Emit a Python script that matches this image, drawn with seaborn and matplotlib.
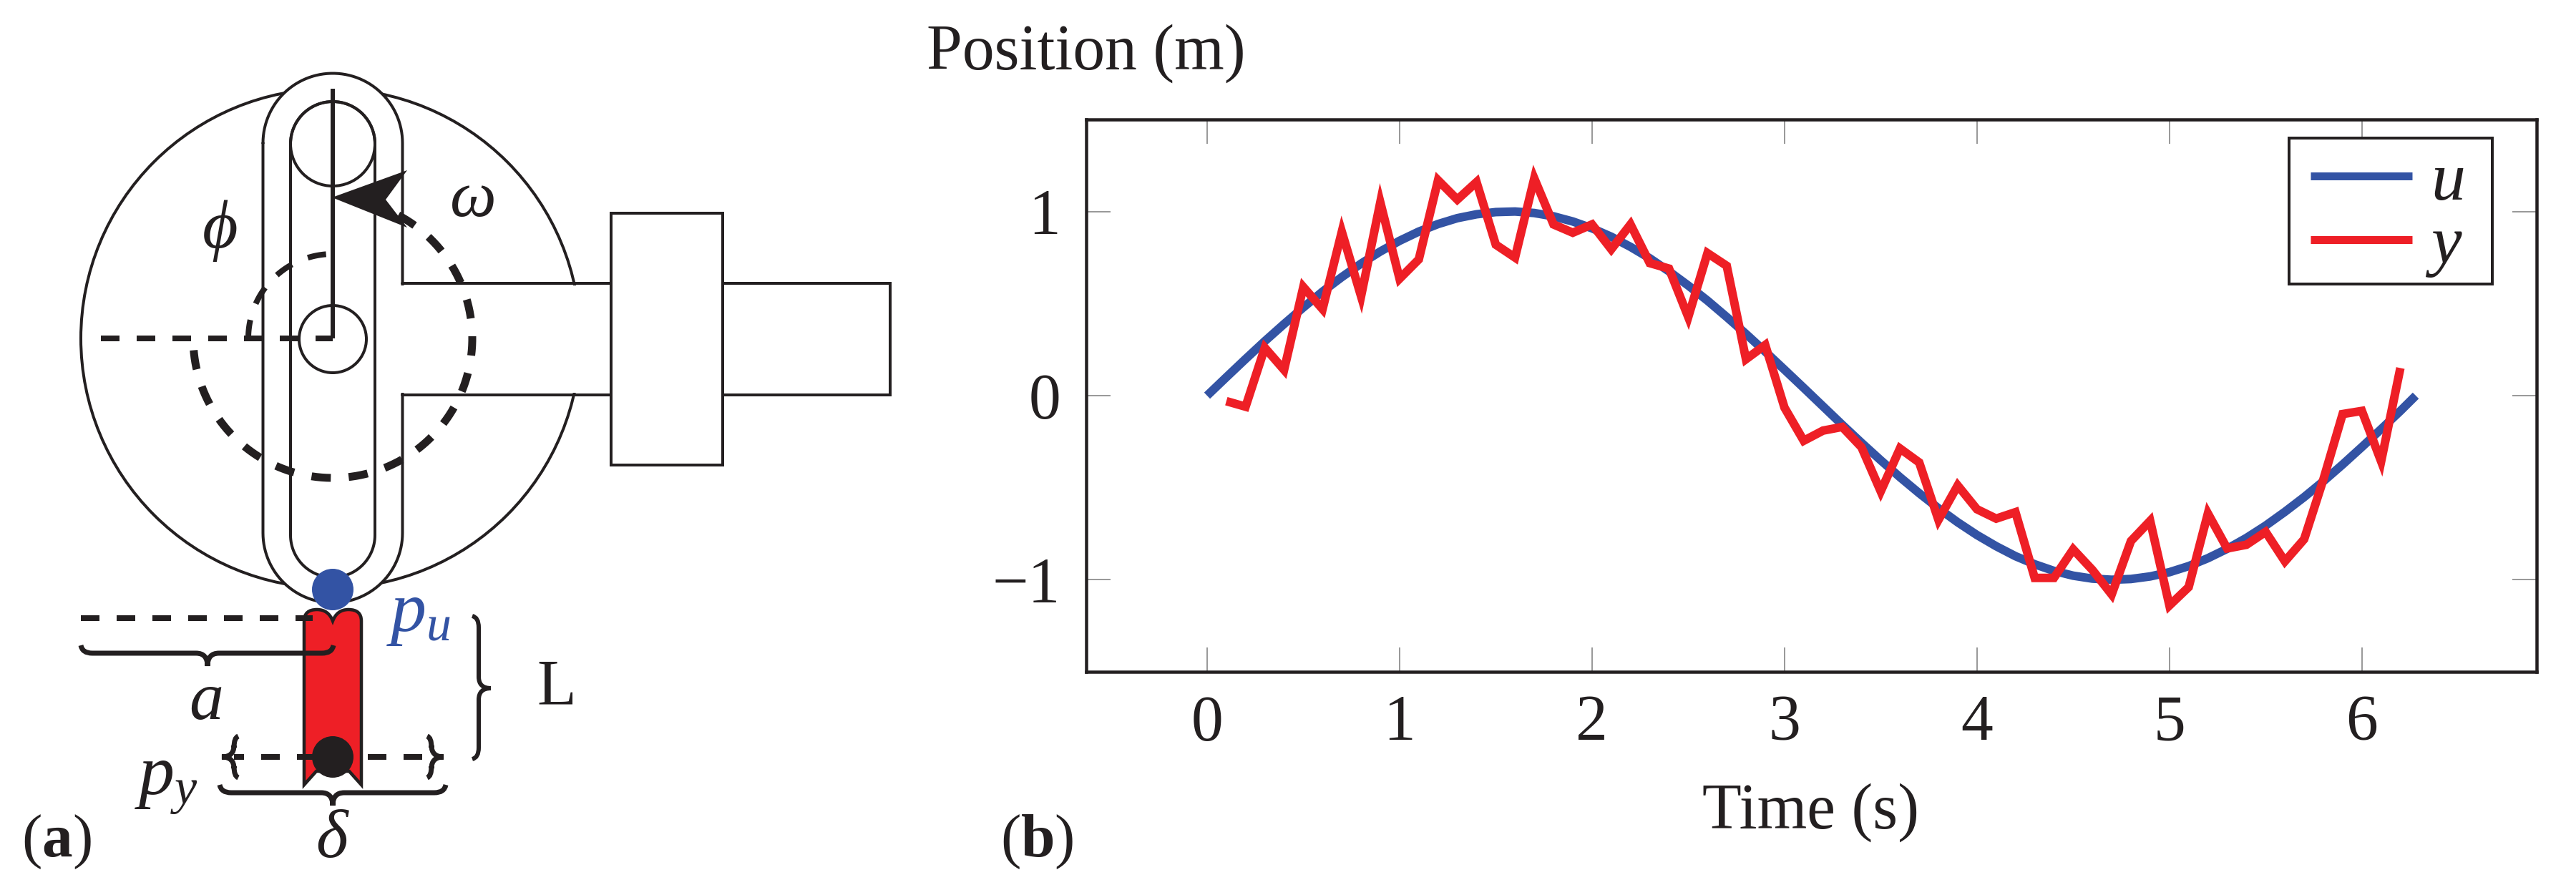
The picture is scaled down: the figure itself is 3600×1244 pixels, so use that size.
import numpy as np
import pandas as pd
import matplotlib
matplotlib.use('Agg')
import matplotlib.pyplot as plt
import seaborn as sns
from matplotlib.patches import Circle, PathPatch, Polygon, Rectangle
from matplotlib.path import Path

W, H = 3600, 1244
BLUE = '#3353a4'
RED = '#ee1f26'
INK = '#231f20'
TICK = '#9a9a9a'
SERIF = 'Liberation Serif'

# panel (b) data
u_time = [0, 0.1, 0.2, 0.3, 0.4, 0.5, 0.6, 0.7, 0.8, 0.9, 1.0, 1.1, 1.2, 1.3, 1.4,
          1.5, 1.6, 1.7, 1.8, 1.9, 2.0, 2.1, 2.2, 2.3, 2.4, 2.5, 2.6, 2.7, 2.8,
          2.9, 3.0, 3.1, 3.2, 3.3, 3.4, 3.5, 3.6, 3.7, 3.8, 3.9, 4.0, 4.1, 4.2,
          4.3, 4.4, 4.5, 4.6, 4.7, 4.8, 4.9, 5.0, 5.1, 5.2, 5.3, 5.4, 5.5, 5.6,
          5.7, 5.8, 5.9, 6.0, 6.1, 6.2, 6.28]
u_values = [0, 0.1, 0.199, 0.296, 0.389, 0.479, 0.565, 0.644, 0.717, 0.783, 0.841,
            0.891, 0.932, 0.964, 0.985, 0.997, 1.0, 0.992, 0.974, 0.946, 0.909,
            0.863, 0.808, 0.746, 0.675, 0.598, 0.516, 0.427, 0.335, 0.239, 0.141,
            0.042, -0.058, -0.158, -0.256, -0.351, -0.443, -0.53, -0.612, -0.688,
            -0.757, -0.818, -0.872, -0.916, -0.952, -0.978, -0.994, -1.0, -0.996,
            -0.982, -0.959, -0.926, -0.883, -0.832, -0.773, -0.706, -0.631, -0.551,
            -0.465, -0.374, -0.279, -0.182, -0.083, 0]
y_time = [0.1, 0.2, 0.3, 0.4, 0.5, 0.6, 0.7, 0.8, 0.9, 1.0, 1.1, 1.2, 1.3, 1.4,
          1.5, 1.6, 1.7, 1.8, 1.9, 2.0, 2.1, 2.2, 2.3, 2.4, 2.5, 2.6, 2.7, 2.8,
          2.9, 3.0, 3.1, 3.2, 3.3, 3.4, 3.5, 3.6, 3.7, 3.8, 3.9, 4.0, 4.1, 4.2,
          4.3, 4.4, 4.5, 4.6, 4.7, 4.8, 4.9, 5.0, 5.1, 5.2, 5.3, 5.4, 5.5, 5.6,
          5.7, 5.8, 5.9, 6.0, 6.1, 6.2]
y_values = [-0.03, -0.06, 0.26, 0.14, 0.59, 0.47, 0.89, 0.54, 1.05, 0.635, 0.74,
            1.17, 1.065, 1.16, 0.82, 0.75, 1.18, 0.93, 0.885, 0.93, 0.795, 0.93,
            0.72, 0.69, 0.427, 0.774, 0.705, 0.198, 0.275, -0.065, -0.245, -0.19,
            -0.17, -0.28, -0.52, -0.287, -0.363, -0.675, -0.488, -0.617, -0.668,
            -0.633, -0.99, -0.99, -0.835, -0.947, -1.08, -0.79, -0.68, -1.14,
            -1.04, -0.64, -0.83, -0.81, -0.74, -0.90, -0.78, -0.455, -0.10,
            -0.083, -0.357, 0.15]
x_ticks = [0, 1, 2, 3, 4, 5, 6]
y_ticks = [-1, 0, 1]

sns.set_theme(style='white')
plt.rcParams['font.family'] = [SERIF, 'DejaVu Serif']
plt.rcParams['mathtext.fontset'] = 'custom'
plt.rcParams['mathtext.rm'] = SERIF
plt.rcParams['mathtext.it'] = SERIF + ':italic'
plt.rcParams['mathtext.bf'] = SERIF + ':bold'
plt.rcParams['text.color'] = INK


def pt(px):
    return px * 72 / 300


fig = plt.figure(figsize=(W / 300, H / 300), dpi=300)
fig.patch.set_facecolor('white')

# ---- panel (b)
AX_L, AX_R, AX_T, AX_B = 1518, 3545, 167, 939
ax = fig.add_axes([AX_L / W, (H - AX_B) / H, (AX_R - AX_L) / W, (AX_B - AX_T) / H])
df = pd.concat([
    pd.DataFrame({'t': u_time, 'v': u_values, 's': 'u'}),
    pd.DataFrame({'t': y_time, 'v': y_values, 's': 'y'}),
])
sns.lineplot(data=df, x='t', y='v', hue='s', palette={'u': BLUE, 'y': RED},
             estimator=None, sort=False, linewidth=pt(12), ax=ax,
             solid_joinstyle='miter', solid_capstyle='butt')
ax.set_xlim(-0.628, 6.908)
ax.set_ylim(-1.5, 1.5)
ax.set_xticks(x_ticks)
ax.set_yticks(y_ticks)
ax.set_xlabel('')
ax.set_ylabel('')
ax.tick_params(axis='both', which='major', direction='in', length=pt(34), width=pt(2),
               color=TICK, labelsize=21.5, labelcolor=INK, top=True, right=True, bottom=True, left=True)
ax.tick_params(axis='x', pad=pt(32))
ax.tick_params(axis='y', pad=pt(36))
for s in ax.spines.values():
    s.set_linewidth(pt(4.5))
    s.set_color(INK)

# legend box is drawn apart so its size can follow the picture
box_w = AX_R - AX_L
box_h = AX_B - AX_T
ax.add_patch(Rectangle(((3199 - AX_L) / box_w, (AX_B - 397) / box_h), 284 / box_w, 204 / box_h,
                       transform=ax.transAxes, fc='white', ec=INK, lw=pt(4), zorder=4))
handles, labels = ax.get_legend_handles_labels()
leg = ax.legend(handles, labels, loc='upper left', borderaxespad=0, borderpad=0,
                bbox_to_anchor=((3229 - AX_L) / box_w, (AX_B - 212) / box_h),
                frameon=False, prop={'family': SERIF, 'style': 'italic', 'size': 23},
                handlelength=1.48, handletextpad=0.28, labelspacing=0.02)
leg.set_zorder(5)
for line in leg.get_lines():
    line.set_linewidth(pt(11))

# ---- overlay in image pixels, holds panel (a) and the loose labels
ov = fig.add_axes([0, 0, 1, 1], zorder=5)
ov.set_xlim(0, W)
ov.set_ylim(H, 0)
ov.axis('off')
ov.patch.set_alpha(0)

THIN = pt(4)


def stadium(cx, top, bottom, r, fill=None, z=2):
    a = np.linspace(np.pi, 0, 60)
    xs = np.r_[cx + r * np.cos(a), cx - r * np.cos(a)]
    ys = np.r_[top - r * np.sin(a), bottom + r * np.sin(a)]
    if fill:
        ov.fill(xs, ys, color=fill, zorder=z, lw=0)
    ov.plot(np.r_[xs, xs[0]], np.r_[ys, ys[0]], color=INK, lw=THIN, zorder=z)


def dashed(xs, ys, on=26, off=24, width=8, offset=0, z=6):
    ov.plot(xs, ys, color=INK, lw=pt(width), zorder=z, solid_capstyle='butt',
            dash_capstyle='butt',
            linestyle=(offset / width, (on / width, off / width)))


def arc(cx, cy, r, a0, a1):
    a = np.radians(np.linspace(a0, a1, 120))
    return cx + r * np.cos(a), cy - r * np.sin(a)


def brace_h(x0, x1, y, tip, depth, end, width=7):
    # ends bend towards -end, tip points to +depth
    r = 16
    verts = [(x0, y - end), (x0 + 2, y), (x0 + r, y), (tip - r, y), (tip, y), (tip, y + depth),
             (tip, y), (tip + r, y), (x1 - r, y), (x1 - 2, y), (x1, y - end)]
    codes = [Path.MOVETO, Path.CURVE3, Path.CURVE3, Path.LINETO, Path.CURVE3, Path.CURVE3,
             Path.CURVE3, Path.CURVE3, Path.LINETO, Path.CURVE3, Path.CURVE3]
    ov.add_patch(PathPatch(Path(verts, codes), fill=False, ec=INK, lw=pt(width), zorder=7))


def brace_v(x, y0, y1, tip, depth, end, width=6):
    r = 16
    verts = [(x - end, y0), (x, y0 + 2), (x, y0 + r), (x, tip - r), (x, tip), (x + depth, tip),
             (x, tip), (x, tip + r), (x, y1 - r), (x, y1 - 2), (x - end, y1)]
    codes = [Path.MOVETO, Path.CURVE3, Path.CURVE3, Path.LINETO, Path.CURVE3, Path.CURVE3,
             Path.CURVE3, Path.CURVE3, Path.LINETO, Path.CURVE3, Path.CURVE3]
    ov.add_patch(PathPatch(Path(verts, codes), fill=False, ec=INK, lw=pt(width), zorder=7))


CX, CY = 465, 473

# wheel, slot, shaft
ov.add_patch(Circle((462, CY), 349, fc='white', ec=INK, lw=THIN, zorder=1))
stadium(CX, 200, 745, 97.5, fill='white', z=2)
ov.add_patch(Rectangle((556, 399), 298, 150, fc='white', ec='none', zorder=3))
ov.plot([562, 854], [396, 396], color=INK, lw=THIN, zorder=3)
ov.plot([562, 854], [552, 552], color=INK, lw=THIN, zorder=3)
ov.add_patch(Rectangle((1010, 396), 234, 156, fc='white', ec=INK, lw=THIN, zorder=3))
ov.add_patch(Rectangle((854, 298), 156, 352, fc='white', ec=INK, lw=THIN, zorder=4))
stadium(CX, 201, 748, 59, z=4)
ov.add_patch(Circle((CX, 201), 59, fill=False, ec=INK, lw=THIN, zorder=4))
ov.add_patch(Circle((CX, 474), 47, fill=False, ec=INK, lw=THIN, zorder=4))

# rod and arrow head
ov.plot([CX, CX], [124, CY], color=INK, lw=pt(6), zorder=5, solid_capstyle='butt')
ov.add_patch(Polygon([(464, 276), (569, 238), (539, 279), (569, 318)], fc=INK, ec='none', zorder=6))

# dashed guides
dashed([141, CX], [CY, CY], on=26, off=24)
xs, ys = arc(CX, CY, 195, 62, -180)
dashed(xs, ys, on=27, off=25, width=11)
xs, ys = arc(CX, CY, 118, 180, 93)
dashed(xs, ys, on=26, off=24, width=8)

# follower
bar = Path([(425, 1097), (425, 868), (425, 852), (443, 852), (459, 852), (465, 868),
            (471, 852), (487, 852), (505, 852), (505, 868), (505, 1097), (488, 1078),
            (442, 1078), (425, 1097)],
           [Path.MOVETO, Path.LINETO, Path.CURVE3, Path.CURVE3, Path.CURVE3, Path.CURVE3,
            Path.CURVE3, Path.CURVE3, Path.CURVE3, Path.CURVE3, Path.LINETO, Path.LINETO,
            Path.LINETO, Path.CLOSEPOLY])
ov.add_patch(PathPatch(bar, fc=RED, ec=INK, lw=pt(4.5), zorder=6, joinstyle='miter'))
ov.add_patch(Circle((465, 824), 29, fc=BLUE, ec='none', zorder=8))
ov.add_patch(Circle((465, 1058), 29, fc=INK, ec='none', zorder=8))
dashed([113, 437], [864, 864], z=7)
dashed([327, 437], [1058, 1058], offset=12, z=7)
dashed([514, 594], [1058, 1058], z=7)

# braces
brace_h(113, 466, 913, 290, 18, 11)
brace_h(307, 623, 1108, 465, 18, 11)
brace_v(669, 861, 1061, 962, 17, 9)
brace_v(327, 1029, 1087, 1058, -17, -6, width=7)
brace_v(603, 1029, 1087, 1058, 17, 6, width=7)


def label(x, y, s, size=21.5, color=INK, ha='center', va='center', **kw):
    ov.text(x, y, s, fontsize=size, color=color, ha=ha, va=va, family=SERIF, zorder=9, **kw)


label(307, 322, r'$\phi$', size=23)
label(659, 280, r'$\omega$', size=22)
label(585, 860, r'$p_u$', size=24, color=BLUE)
label(287, 982, r'$a$', size=23)
label(778, 962, 'L')
label(232, 1097, r'$p_y$', size=24)
label(465, 1175, r'$\delta$', size=23)
label(30, 1197, r'($\mathbf{a}$)', size=20.5, ha='left', va='baseline')
label(1398, 1197, r'($\mathbf{b}$)', size=20.5, ha='left', va='baseline')
label(1295, 97, 'Position (m)', ha='left', va='baseline')
label(2379, 1158, 'Time (s)', ha='left', va='baseline')

fig.savefig('out.png', dpi=300, facecolor='white')
print('saved')
